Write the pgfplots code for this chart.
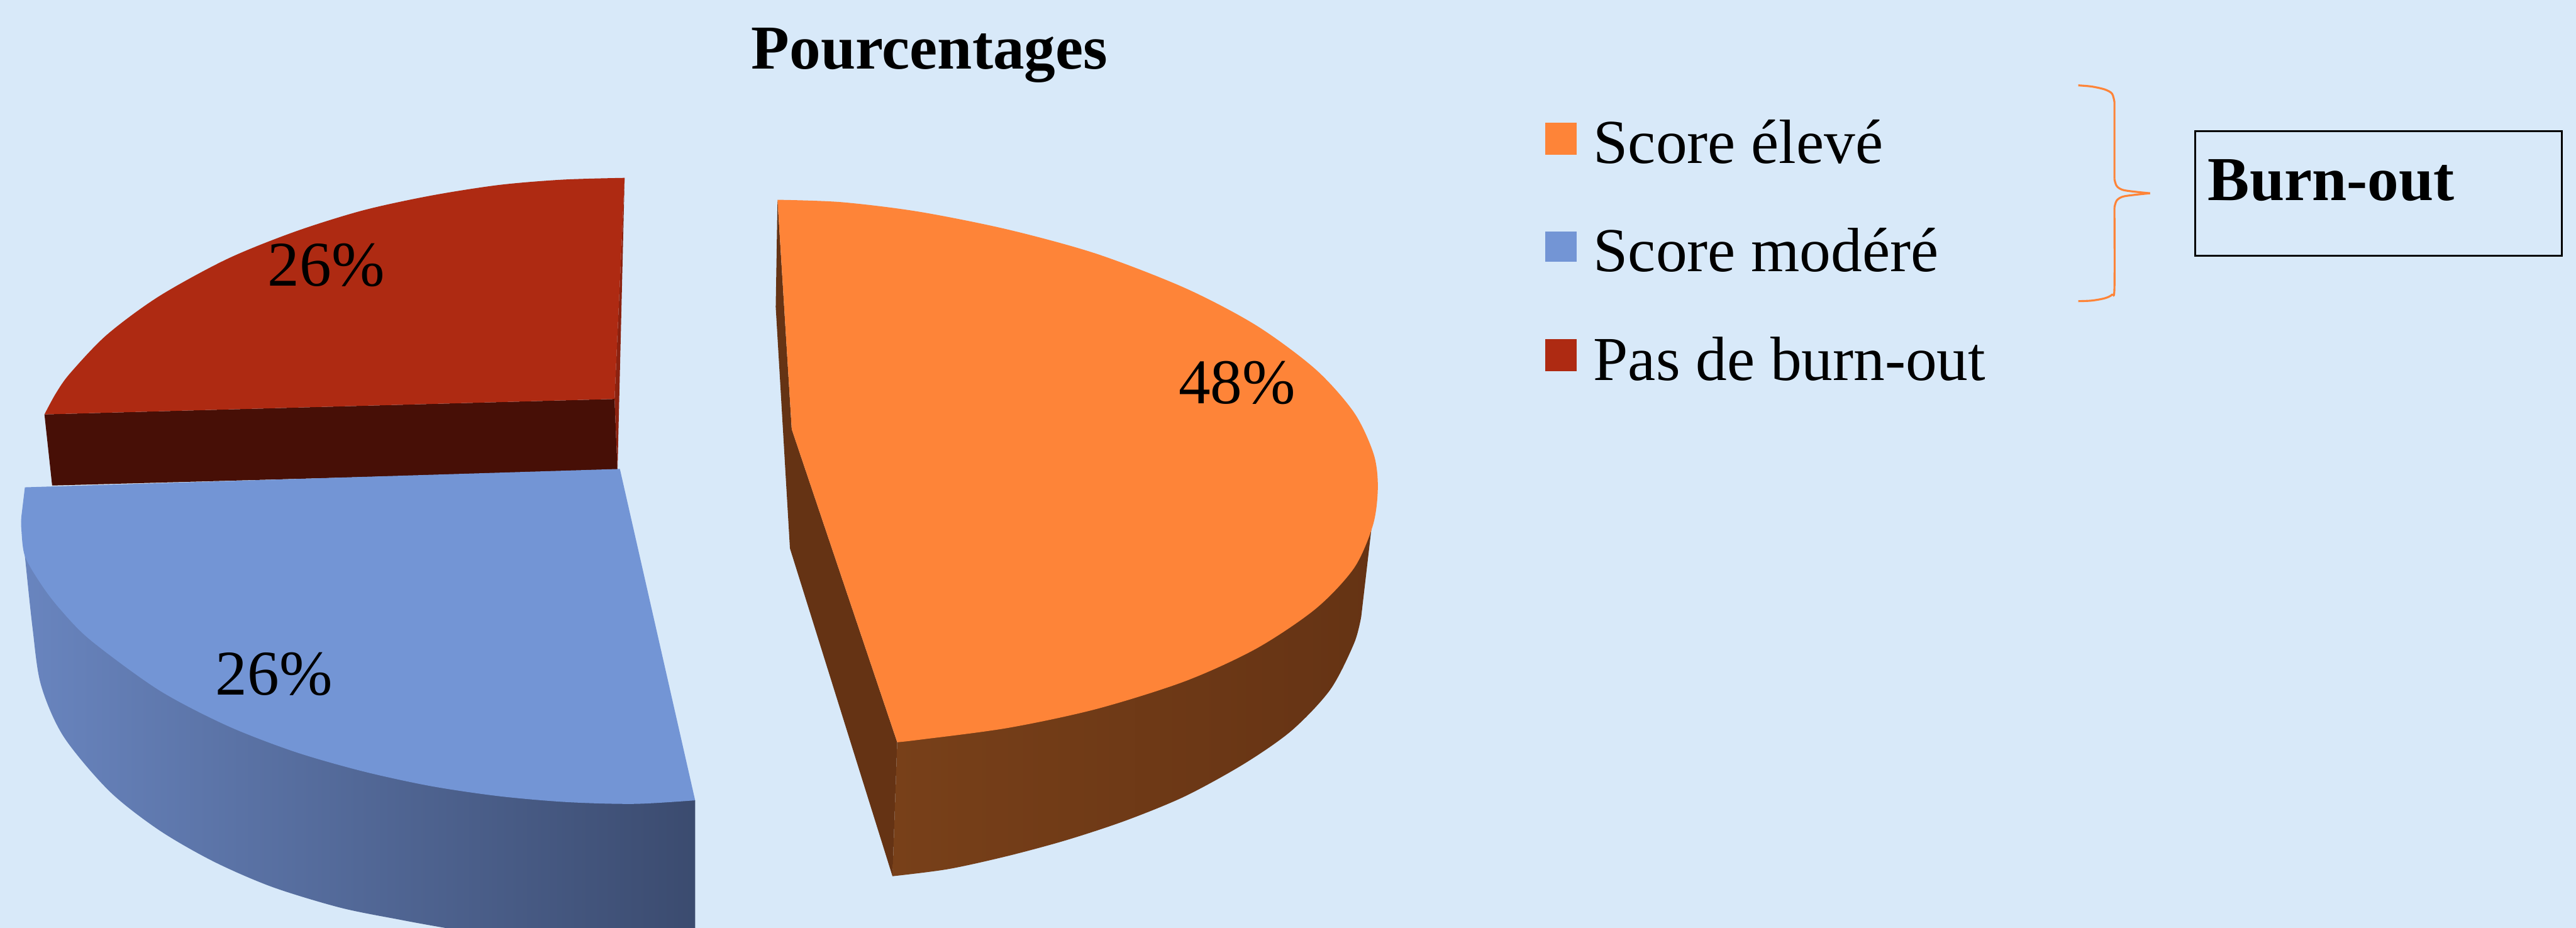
\documentclass[border=0pt]{standalone}
\usepackage{fontspec}
\setmainfont{Liberation Serif}
\usepackage{pgfplots}
\pgfplotsset{compat=1.18}
\definecolor{bg}{HTML}{D8E9F9}
\definecolor{orangeT}{HTML}{FE8438}
\definecolor{orangeS}{HTML}{653314}
\definecolor{orangeL}{HTML}{784019}
\definecolor{blueT}{HTML}{7395D5}
\definecolor{blueL}{HTML}{6985BF}
\definecolor{blueM}{HTML}{566F9F}
\definecolor{blueR}{HTML}{3B4B6F}
\definecolor{redT}{HTML}{AE2A12}
\definecolor{redD}{HTML}{470F06}
\definecolor{redS}{HTML}{8B2210}
\begin{document}
\begin{tikzpicture}[every node/.style={inner sep=0pt,font=\fontsize{25.3pt}{30pt}\selectfont}]
\fill[bg] (0,0) rectangle (1043.28pt,375.6pt);
\begin{axis}[at={(0,0)},anchor=south west,scale only axis,width=1043.28pt,height=375.6pt,
  xmin=0,xmax=4347,ymin=0,ymax=1565,y dir=reverse,hide axis]
% red slice
\addplot[fill=redD,draw=none] coordinates {(75,699)(1037,673)(1042,793)(88,819)} --cycle;
\addplot[fill=redS,draw=none] coordinates {(1054,300)(1037,673)(1042,793)} --cycle;
\addplot[fill=redT,draw=none,smooth] coordinates {(1054,300)(950,303)(842,312)(727,330)(612,355)(497,391)(383,437)(268,500)(180,565)(118,630)(94,664)(75,699)} -- (axis cs:1037,673) -- cycle;
% blue slice
\addplot[left color=blueL,middle color=blueM,right color=blueR,draw=none,smooth] coordinates {(36,880)(42,938)(55,1060)(69,1155)(107,1242)(184,1334)(268,1400)(360,1453)(459,1496)(574,1531)(673,1551)(750,1565)(900,1590)(1173,1615)} -- (axis cs:1173,1350) -- cycle;
\addplot[fill=blueT,draw=none,smooth] coordinates {(1173,1350)(1071,1356)(957,1353)(842,1343)(727,1326)(612,1301)(497,1268)(383,1224)(268,1164)(153,1080)(101,1027)(69,985)(42,938)(36,892)(36,872)} -- (axis cs:42,822) -- (axis cs:1046,791) -- cycle;
% orange slice
\addplot[fill=orangeS,draw=none] coordinates {(1312,337)(1309,518)(1333,925)(1506,1478)(1514,1252)(1336,724)} --cycle;
\addplot[left color=orangeL,middle color=orangeS,right color=orangeS,draw=none,smooth] coordinates {(1506,1478)(1600,1466)(1700,1444)(1800,1417)(1900,1384)(2000,1343)(2100,1288)(2180,1232)(2245,1163)(2285,1085)(2297,1040)} -- (axis cs:2323,816) -- (axis cs:1514,1252) -- cycle;
\addplot[fill=orangeT,draw=none,smooth] coordinates {(1312,337)(1420,341)(1550,357)(1700,387)(1850,428)(2000,486)(2120,549)(2220,623)(2285,696)(2318,766)(2325,822)(2317,885)(2285,958)(2220,1027)(2120,1094)(2000,1149)(1850,1196)(1700,1228)(1550,1248)(1514,1252)} -- (axis cs:1336,724) -- cycle;
% legend keys
\addplot[fill=orangeT,draw=none] coordinates {(2607,207)(2660,207)(2660,261)(2607,261)} --cycle;
\addplot[fill=blueT,draw=none] coordinates {(2607,390)(2660,390)(2660,442)(2607,442)} --cycle;
\addplot[fill=redT,draw=none] coordinates {(2607,572)(2660,572)(2660,626)(2607,626)} --cycle;
% brace
\addplot[orangeT,line width=0.8pt,smooth] coordinates {(3507,144)(3530,146)(3552,151)(3564,158)(3568,172)} -- (axis cs:3568,302);
\addplot[orangeT,line width=0.8pt,smooth] coordinates {(3568,302)(3572,314)(3585,321)(3628,326)};
\addplot[orangeT,line width=0.8pt,smooth] coordinates {(3628,326)(3585,331)(3572,338)(3568,350)};
\addplot[orangeT,line width=0.8pt,smooth] coordinates {(3568,350)(3568,486)(3564,497)(3552,503)(3530,507)(3507,508)};
% box
\addplot[black,line width=0.75pt] coordinates {(3704,221)(4323,221)(4323,431)(3704,431)} --cycle;
% texts
\node[anchor=base west,font=\fontsize{25.8pt}{30pt}\selectfont] at (axis cs:451,482) {26\%};
\node[anchor=base west,font=\fontsize{25.8pt}{30pt}\selectfont] at (axis cs:363,1172) {26\%};
\node[anchor=base west,font=\fontsize{25.8pt}{30pt}\selectfont] at (axis cs:1988,681) {48\%};
\node[anchor=base west] at (axis cs:1267,116) {\bfseries Pourcentages};
\node[anchor=base west] at (axis cs:2688,275) {Score élevé};
\node[anchor=base west] at (axis cs:2688,458) {Score modéré};
\node[anchor=base west] at (axis cs:2688,641) {Pas de burn-out};
\node[anchor=base west] at (axis cs:3725,338) {\bfseries Burn-out};
\end{axis}
\end{tikzpicture}
\end{document}
